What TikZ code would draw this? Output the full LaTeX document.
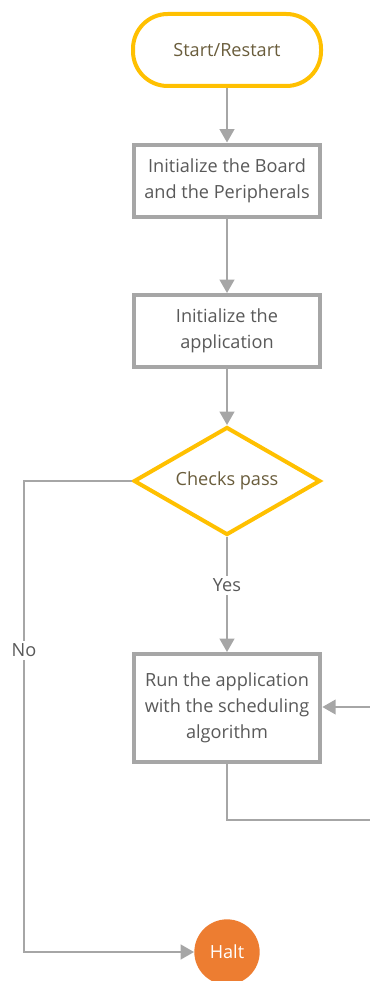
\documentclass[tikz,border=0pt]{standalone}
\usepackage{fontspec}
\setmainfont{Open Sans}
\usetikzlibrary{shapes.geometric,arrows.meta}
\definecolor{gold}{HTML}{FFC000}
\definecolor{linegray}{HTML}{A6A6A6}
\definecolor{txt}{HTML}{595959}
\definecolor{goldtxt}{HTML}{6A5D3C}
\definecolor{haltfill}{HTML}{ED7D31}
\begin{document}
\begin{tikzpicture}[x=0.75pt,y=-0.75pt,
  every node/.style={font=\fontsize{13.6}{19.5}\selectfont, text=txt, align=center},
  terminal/.style={draw=gold, line width=3pt, fill=white, rounded corners=26pt,
    minimum width=141pt, minimum height=54pt, text=goldtxt},
  stepbox/.style={draw=linegray, line width=3pt, fill=white,
    minimum width=140pt, minimum height=54pt, inner sep=2pt},
  decision/.style={diamond, draw=gold, line width=3pt, fill=white, aspect=1.7,
    minimum width=140pt, minimum height=81pt, inner sep=0pt, text=goldtxt},
  haltnode/.style={circle, fill=haltfill, minimum size=49pt, inner sep=0pt, text=white},
  conn/.style={draw=linegray, line width=1.5pt},
  arr/.style={conn, -{Triangle[width=11pt,length=10pt]}},
  lbl/.style={fill=white, inner sep=2pt}
]
\useasboundingbox (0,0) rectangle (370,981);

% nodes of the flow
\node[terminal] (start) at (227,50) {Start/Restart};
\node[stepbox] (board) at (227,180.5) {Initialize the Board\\and the Peripherals};
\node[stepbox] (app) at (227,331) {Initialize the\\application};
\node[decision] (check) at (227,481) {Checks pass};
\node[stepbox, minimum height=81pt] (run) at (227,708) {Run the application\\with the scheduling\\algorithm};
\node[haltnode] (halt) at (227,952) {Halt};

% main sequence
\draw[arr] (start) -- (board);
\draw[arr] (board) -- (app);
\draw[arr] (app) -- (check);
\draw[arr] (check) -- node[lbl, pos=0.42] {Yes} (run);

% failure branch to Halt
\coordinate (noTop) at (24,481);
\coordinate (noBot) at (24,952);
\draw[arr] (check.west) -- (noTop) -- node[lbl, pos=0.36] {No} (noBot) -- (halt.west);

% scheduling loop
\coordinate (loopOut) at (371,820);
\coordinate (loopIn) at (371,707);
\draw[conn] (run.south) |- (loopOut);
\draw[arr] (loopIn) -- (run.east |- loopIn);
\end{tikzpicture}
\end{document}
